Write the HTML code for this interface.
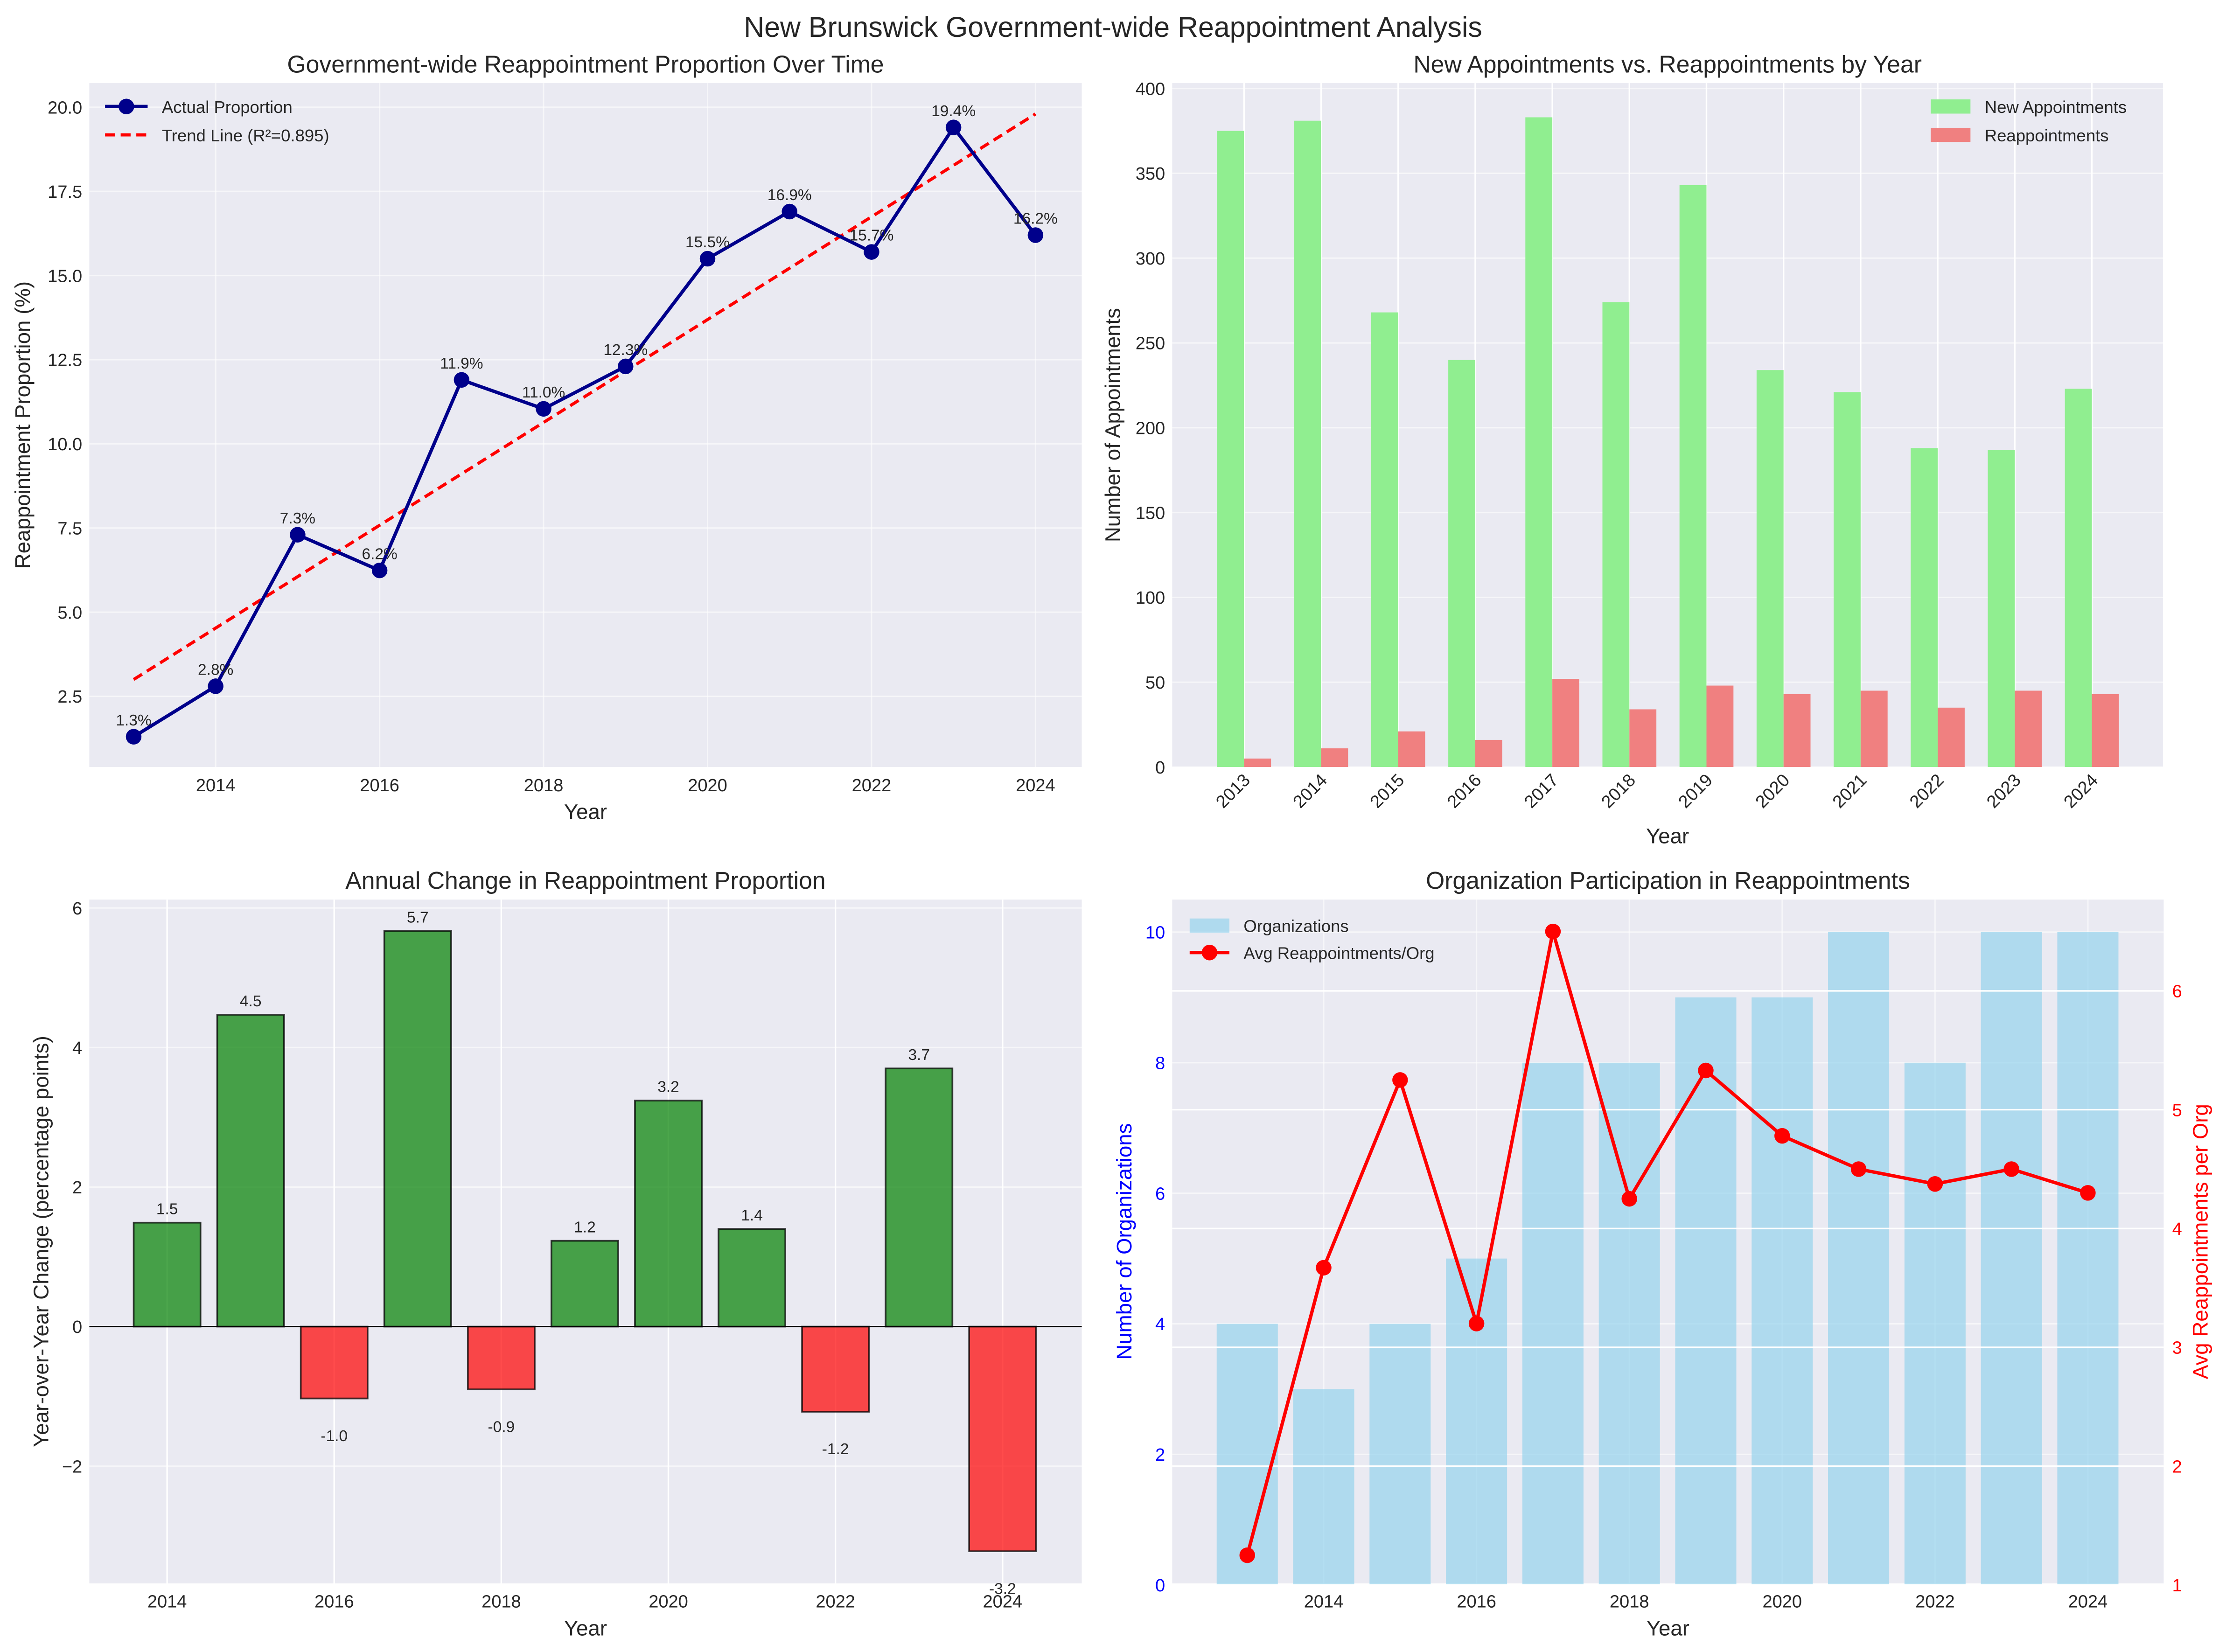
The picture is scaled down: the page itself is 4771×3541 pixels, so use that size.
<!DOCTYPE html>
<html><head><meta charset="utf-8"><style>
html,body{margin:0;padding:0;background:#fff}
svg{display:block}
text{font-family:"Liberation Sans Narrow","Liberation Sans",sans-serif;fill:#262626}
</style></head><body>
<svg id="fig" xmlns="http://www.w3.org/2000/svg" width="4771" height="3541" viewBox="0 0 1568 1163.7">
<rect width="1568" height="1163.7" fill="#fff"/>
<text x="784" y="26" font-size="20" text-anchor="middle">New Brunswick Government-wide Reappointment Analysis</text>
</svg>
<script>
const years=[2013,2014,2015,2016,2017,2018,2019,2020,2021,2022,2023,2024];
const proportion=[1.3,2.8,7.3,6.24,11.9,11.04,12.3,15.5,16.9,15.7,19.4,16.2];
const trendStart=3.0, trendEnd=19.8;
const newAppts=[375,381,268,240,383,274,343,234,221,188,187,223];
const reappts=[5,11,21,16,52,34,48,43,45,35,45,43];
const changeYears=[2014,2015,2016,2017,2018,2019,2020,2021,2022,2023,2024];
const changes=[1.49,4.47,-1.03,5.67,-0.9,1.23,3.24,1.4,-1.22,3.7,-3.22];
const orgCounts=[4,3,4,5,8,8,9,9,10,8,10,10];
const avgPerOrg=[1.25,3.67,5.25,3.2,6.5,4.25,5.33,4.78,4.5,4.375,4.5,4.3];
const p1YTicks=[2.5,5.0,7.5,10.0,12.5,15.0,17.5,20.0];
const evenYears=[2014,2016,2018,2020,2022,2024];
const p2YTicks=[0,50,100,150,200,250,300,350,400];
const p3YTicks=[-2,0,2,4,6];
const p4LTicks=[0,2,4,6,8,10];
const p4RTicks=[1,2,3,4,5,6];

const TK=12.5, LG=12, AN=11, AX=15, TT=17;
const NS="http://www.w3.org/2000/svg";
const svg=document.getElementById('fig');
function mk(tag,attrs,parent){const e=document.createElementNS(NS,tag);for(const k in attrs)e.setAttribute(k,attrs[k]);(parent||svg).appendChild(e);return e;}
function txt(s,attrs,parent){const e=mk('text',attrs,parent);e.textContent=s;return e;}
function lin(d0,d1,r0,r1){return v=>r0+(v-d0)*(r1-r0)/(d1-d0);}

function frame(name,L,R,T,B){
  const g=mk('g',{});
  
  
  const bg=mk('rect',{x:L,y:T,width:R-L,height:B-T,fill:'#EAEAF2'},g);
  
  
  return g;
}

// ===== Panel 1 =====
(function(){
  const L=62.9,R=762,T=58.5,B=540.3;
  const x=lin(2014,2024,151.9,729.4), y=lin(2.5,20,490.5,75.5);
  const g=frame('proportion-panel',L,R,T,B);
  evenYears.forEach(v=>{const l=mk('line',{x1:x(v),x2:x(v),y1:T,y2:B,stroke:'#fff','stroke-opacity':0.55,'stroke-width':1},g);
    
    const t=txt(String(v),{x:x(v),y:B+17,'font-size':TK,'text-anchor':'middle'},g);
    });
  p1YTicks.forEach(v=>{const l=mk('line',{x1:L,x2:R,y1:y(v),y2:y(v),stroke:'#fff','stroke-opacity':0.55,'stroke-width':1},g);
    
    const t=txt(v.toFixed(1),{x:L-5,y:y(v)+4.5,'font-size':TK,'text-anchor':'end'},g);
    });
  const tr=mk('line',{x1:x(years[0]),y1:y(trendStart),x2:x(years[years.length-1]),y2:y(trendEnd),stroke:'#ff0000','stroke-width':2.2,'stroke-dasharray':'7,4'},g);
  
  const pl=mk('polyline',{points:years.map((v,i)=>x(v)+','+y(proportion[i])).join(' '),fill:'none',stroke:'#00008B','stroke-width':2.4},g);
  
  years.forEach((v,i)=>{const c=mk('circle',{cx:x(v),cy:y(proportion[i]),r:5.5,fill:'#00008B'},g);
    
    const t=txt(proportion[i].toFixed(1)+'%',{x:x(v),y:y(proportion[i])-8,'font-size':AN,'text-anchor':'middle'},g);
    });
  const tt=txt('Government-wide Reappointment Proportion Over Time',{x:(L+R)/2,y:51,'font-size':TT,'text-anchor':'middle'},g);
  
  const xl=txt('Year',{x:(L+R)/2,y:577,'font-size':AX,'text-anchor':'middle'},g);
  
  const yl=txt('Reappointment Proportion (%)',{x:0,y:0,'font-size':AX,'text-anchor':'middle',transform:'translate(21,'+((T+B)/2)+') rotate(-90)'},g);
  
  const lg=mk('g',{},g);
  mk('line',{x1:74,x2:104,y1:75,y2:75,stroke:'#00008B','stroke-width':2.4},lg);
  mk('circle',{cx:89,cy:75,r:5.5,fill:'#00008B'},lg);
  txt('Actual Proportion',{x:114,y:79.5,'font-size':LG},lg);
  mk('line',{x1:74,x2:104,y1:95,y2:95,stroke:'#ff0000','stroke-width':2.2,'stroke-dasharray':'7,4'},lg);
  txt('Trend Line (R²=0.895)',{x:114,y:99.5,'font-size':LG},lg);
})();

// ===== Panel 2 =====
(function(){
  const L=825.7,R=1523.6,T=58.5,B=540.3;
  const x=lin(2013,2024,876.3,1473.5), y=lin(0,400,540.3,62.3);
  const step=x(2014)-x(2013), bw=step*0.35;
  const g=frame('appointments-panel',L,R,T,B);
  p2YTicks.forEach(v=>{const l=mk('line',{x1:L,x2:R,y1:y(v),y2:y(v),stroke:'#fff','stroke-opacity':0.55,'stroke-width':1},g);
    
    const t=txt(String(v),{x:L-5,y:y(v)+4.5,'font-size':TK,'text-anchor':'end'},g);
    });
  years.forEach(v=>{const l=mk('line',{x1:x(v),x2:x(v),y1:T,y2:B,stroke:'#fff','stroke-width':1.1},g);
    });
  years.forEach((v,i)=>{
    const a=mk('rect',{x:x(v)-bw,y:y(newAppts[i]),width:bw,height:y(0)-y(newAppts[i]),fill:'#90EE90'},g);
    
    const b=mk('rect',{x:x(v),y:y(reappts[i]),width:bw,height:y(0)-y(reappts[i]),fill:'#F08080'},g);
    
    const t=txt(String(v),{x:0,y:0,'font-size':TK,'text-anchor':'end',transform:'translate('+(x(v)+5)+','+(B+10)+') rotate(-45)'},g);
    
  });
  const tt=txt('New Appointments vs. Reappointments by Year',{x:(L+R)/2,y:51,'font-size':TT,'text-anchor':'middle'},g);
  
  const xl=txt('Year',{x:(L+R)/2,y:594,'font-size':AX,'text-anchor':'middle'},g);
  
  const yl=txt('Number of Appointments',{x:0,y:0,'font-size':AX,'text-anchor':'middle',transform:'translate(789,'+((T+B)/2)+') rotate(-90)'},g);
  
  const lg=mk('g',{},g);
  mk('rect',{x:1360,y:70,width:28,height:10,fill:'#90EE90'},lg);
  txt('New Appointments',{x:1398,y:79.5,'font-size':LG},lg);
  mk('rect',{x:1360,y:90,width:28,height:10,fill:'#F08080'},lg);
  txt('Reappointments',{x:1398,y:99.5,'font-size':LG},lg);
})();

// ===== Panel 3 =====
(function(){
  const L=62.9,R=762,T=633.7,B=1115.4;
  const x=lin(2014,2024,117.7,706.2), y=lin(0,6,934.5,639.6);
  const bw=(x(2015)-x(2014))*0.8;
  const g=frame('annual-change-panel',L,R,T,B);
  p3YTicks.forEach(v=>{const l=mk('line',{x1:L,x2:R,y1:y(v),y2:y(v),stroke:'#fff','stroke-opacity':0.55,'stroke-width':1},g);
    
    const t=txt(v<0?'−'+Math.abs(v):String(v),{x:L-5,y:y(v)+4.5,'font-size':TK,'text-anchor':'end'},g);
    });
  evenYears.forEach(v=>{const l=mk('line',{x1:x(v),x2:x(v),y1:T,y2:B,stroke:'#fff','stroke-width':1.1},g);
    
    const t=txt(String(v),{x:x(v),y:B+17,'font-size':TK,'text-anchor':'middle'},g);
    });
  changeYears.forEach((v,i)=>{
    const c=changes[i], top=Math.min(y(c),y(0)), h=Math.abs(y(c)-y(0));
    const r=mk('rect',{x:x(v)-bw/2,y:top,width:bw,height:h,fill:c>=0?'#008000':'#ff0000','fill-opacity':0.7,stroke:'#000','stroke-opacity':0.75,'stroke-width':1.2},g);
    
    const t=txt(c.toFixed(1),{x:x(v),y:c>=0?y(c)-6:y(c)+30,'font-size':AN,'text-anchor':'middle'},g);
    
  });
  const z=mk('line',{x1:L,x2:R,y1:y(0),y2:y(0),stroke:'#000','stroke-width':0.9},g);
  
  const tt=txt('Annual Change in Reappointment Proportion',{x:(L+R)/2,y:626,'font-size':TT,'text-anchor':'middle'},g);
  
  const xl=txt('Year',{x:(L+R)/2,y:1152,'font-size':AX,'text-anchor':'middle'},g);
  
  const yl=txt('Year-over-Year Change (percentage points)',{x:0,y:0,'font-size':AX,'text-anchor':'middle',transform:'translate(34,'+((T+B)/2)+') rotate(-90)'},g);
  
})();

// ===== Panel 4 =====
(function(){
  const L=825.7,R=1524.1,T=633.7,B=1115.4;
  const x=lin(2014,2024,932.4,1470.7), yl=lin(0,10,1116.5,656.6), yr=lin(1,6,1116.5,698);
  const bw=(x(2015)-x(2014))*0.8;
  const g=frame('organization-panel',L,R,T,B);
  p4LTicks.forEach(v=>{const l=mk('line',{x1:L,x2:R,y1:yl(v),y2:yl(v),stroke:'#fff','stroke-opacity':0.55,'stroke-width':1},g);
    
    const t=txt(String(v),{x:L-5,y:yl(v)+4.5,'font-size':TK,'text-anchor':'end',style:'fill:#0000ff'},g);
    });
  evenYears.forEach(v=>{const l=mk('line',{x1:x(v),x2:x(v),y1:T,y2:B,stroke:'#fff','stroke-opacity':0.55,'stroke-width':1},g);
    
    const t=txt(String(v),{x:x(v),y:B+17,'font-size':TK,'text-anchor':'middle'},g);
    });
  years.forEach((v,i)=>{const r=mk('rect',{x:x(v)-bw/2,y:yl(orgCounts[i]),width:bw,height:yl(0)-yl(orgCounts[i]),fill:'#87CEEB','fill-opacity':0.6},g);
    });
  p4RTicks.forEach(v=>{const l=mk('line',{x1:L,x2:R,y1:yr(v),y2:yr(v),stroke:'#fff','stroke-width':1.1},g);
    
    const t=txt(String(v),{x:R+6,y:yr(v)+4.5,'font-size':TK,'text-anchor':'start',style:'fill:#ff0000'},g);
    });
  const pl=mk('polyline',{points:years.map((v,i)=>x(v)+','+yr(avgPerOrg[i])).join(' '),fill:'none',stroke:'#ff0000','stroke-width':2.4},g);
  
  years.forEach((v,i)=>{const c=mk('circle',{cx:x(v),cy:yr(avgPerOrg[i]),r:5.5,fill:'#ff0000'},g);
    });
  const tt=txt('Organization Participation in Reappointments',{x:(L+R)/2,y:626,'font-size':TT,'text-anchor':'middle'},g);
  
  const xl=txt('Year',{x:(L+R)/2,y:1152,'font-size':AX,'text-anchor':'middle'},g);
  
  const y1=txt('Number of Organizations',{x:0,y:0,'font-size':AX,'text-anchor':'middle',style:'fill:#0000ff',transform:'translate(797,'+((T+B)/2)+') rotate(-90)'},g);
  
  const y2=txt('Avg Reappointments per Org',{x:0,y:0,'font-size':AX,'text-anchor':'middle',style:'fill:#ff0000',transform:'translate(1555,'+((T+B)/2)+') rotate(-90)'},g);
  
  const lg=mk('g',{},g);
  mk('rect',{x:838,y:647,width:28,height:10,fill:'#87CEEB','fill-opacity':0.6},lg);
  txt('Organizations',{x:876,y:656.5,'font-size':LG},lg);
  mk('line',{x1:838,x2:866,y1:671,y2:671,stroke:'#ff0000','stroke-width':2.4},lg);
  mk('circle',{cx:852,cy:671,r:5.5,fill:'#ff0000'},lg);
  txt('Avg Reappointments/Org',{x:876,y:675.5,'font-size':LG},lg);
})();
</script>
</body></html>
